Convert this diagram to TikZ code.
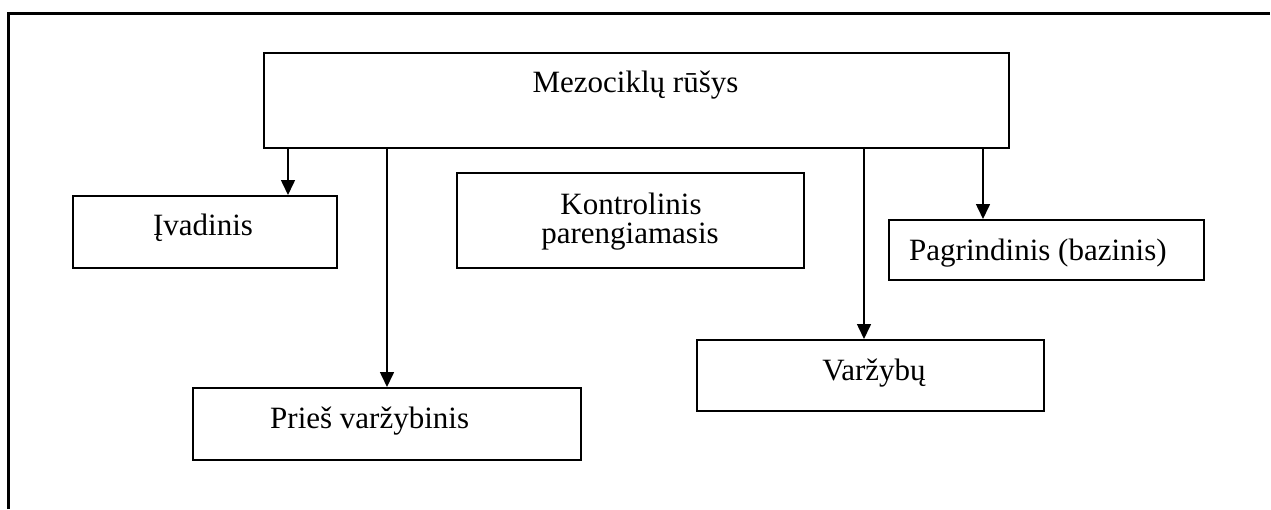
\documentclass[tikz,border=0pt]{standalone}
\usepackage{fontspec}
\setmainfont{Liberation Serif}
\usetikzlibrary{arrows.meta,calc}
\begin{document}
\begin{tikzpicture}[x=1pt,y=-1pt,
  box/.style={draw,line width=1.6pt,rectangle,inner sep=0pt,anchor=north west},
  txt/.style={inner sep=0pt,font=\fontsize{31}{29}\selectfont},
  arr/.style={line width=1.6pt,-{Triangle[length=15pt,width=14pt]}},
  frameline/.style={line width=2.4pt}]
\useasboundingbox (0,0) rectangle (1271,509);
\draw[frameline] (8.5,509) -- (8.5,13.5) -- (1270,13.5);
% boxes
\node[box,minimum width=745pt,minimum height=95pt] (top) at (263,52) {};
\node[box,minimum width=264pt,minimum height=72pt] (iv) at (72,195) {};
\node[box,minimum width=347pt,minimum height=95pt] (ko) at (456,172) {};
\node[box,minimum width=315pt,minimum height=60pt] (pa) at (888,219) {};
\node[box,minimum width=388pt,minimum height=72pt] (pr) at (192,387) {};
\node[box,minimum width=347pt,minimum height=71pt] (va) at (696,339) {};
% texts
\node[txt,anchor=base] (toptxt) at (635.5,92) {Mezociklų rūšys};
\node[txt,anchor=base] (ivtxt) at (203,235) {Įvadinis};
\node[txt,anchor=base] (kotxt1) at (631,214) {Kontrolinis};
\node[txt,anchor=base] (kotxt2) at (630,243) {parengiamasis};
\node[txt,anchor=base west] (patxt) at (909,260) {Pagrindinis (bazinis)};
\node[txt,anchor=base west] (prtxt) at (270,428) {Prieš varžybinis};
\node[txt,anchor=base] (vatxt) at (874,380) {Varžybų};
% arrows
\draw[arr] (top.south -| 288,0) -- (iv.north -| 288,0);
\draw[arr] (top.south -| 387,0) -- (pr.north -| 387,0);
\draw[arr] (top.south -| 864,0) -- (va.north -| 864,0);
\draw[arr] (top.south -| 983,0) -- (pa.north -| 983,0);
\end{tikzpicture}
\end{document}
